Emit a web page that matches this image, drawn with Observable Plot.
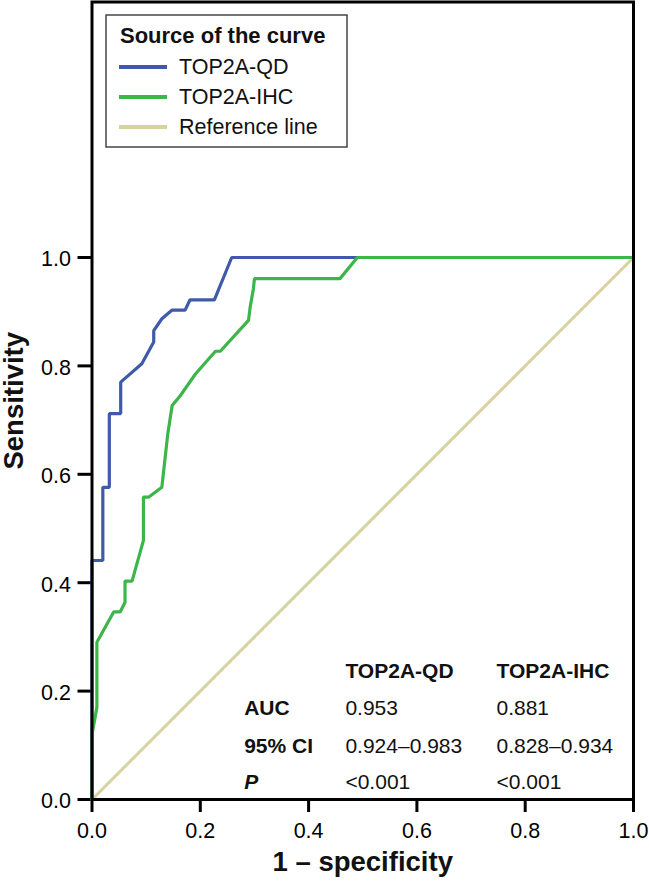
<!DOCTYPE html>
<html><head><meta charset="utf-8">
<script src="https://cdn.jsdelivr.net/npm/d3@7"></script>
<script src="https://cdn.jsdelivr.net/npm/@observablehq/plot@0.6"></script>
<style>
html,body{margin:0;padding:0;background:#fff;}
#chart{position:relative;width:649px;height:885px;}
</style></head><body><div id="chart"></div>
<script>
// ---- data ----
const qdFpr = [0, 0, 0.02, 0.02, 0.032, 0.032, 0.053, 0.053, 0.092, 0.114, 0.114, 0.129, 0.148, 0.172, 0.181, 0.226, 0.258, 1];
const qdTpr = [0, 0.441, 0.441, 0.576, 0.576, 0.712, 0.712, 0.77, 0.804, 0.844, 0.865, 0.887, 0.903, 0.903, 0.922, 0.922, 1.0, 1];
const ihcFpr = [0, 0, 0.009, 0.009, 0.04, 0.052, 0.061, 0.061, 0.074, 0.095, 0.095, 0.105, 0.129, 0.14, 0.148, 0.163, 0.191, 0.228, 0.237, 0.289, 0.292, 0.298, 0.30, 0.458, 0.49, 1];
const ihcTpr = [0, 0.12, 0.17, 0.29, 0.346, 0.346, 0.364, 0.403, 0.403, 0.478, 0.558, 0.558, 0.576, 0.675, 0.727, 0.745, 0.785, 0.827, 0.827, 0.884, 0.908, 0.942, 0.961, 0.961, 1.0, 1];
const refFpr = [0, 1];
const refTpr = [0, 1];
const tickValues = [0, 0.2, 0.4, 0.6, 0.8, 1.0];
const seriesNames = ["TOP2A-QD", "TOP2A-IHC", "Reference line"];
const seriesColors = ["#3f5aa8", "#3cb54a", "#d6d3a1"];
const statColumns = ["TOP2A-QD", "TOP2A-IHC"];
const statRows = ["AUC", "95% CI", "P"];
const qdStats = ["0.953", "0.924–0.983", "<0.001"];
const ihcStats = ["0.881", "0.828–0.934", "<0.001"];
const legendTitle = "Source of the curve";
const xTitle = "1 – specificity";
const yTitle = "Sensitivity";

// ---- layout ----
const W = 649, H = 885;
const mL = 91.5, mR = 16, mT = 1.5, mB = 86;
const yTop = (H - mT - mB) / 542;
const font = "'Liberation Sans', Arial, Helvetica, sans-serif";
const toXY = (xs, ys) => xs.map((x, i) => ({x, y: ys[i]}));
const qdData = toXY(qdFpr, qdTpr);
const ihcData = toXY(ihcFpr, ihcTpr);
const refData = toXY(refFpr, refTpr);

// table positions (data units)
const colX = [0.468, 0.747];
const labelX = 0.281;
const headerY = 0.2375;
const rowY = [0.1692, 0.0991, 0.0327];
const headerCells = statColumns.map((t, i) => ({t, x: colX[i], y: headerY}));
const valueCells = statRows.flatMap((r, j) => [
  {t: qdStats[j], x: colX[0], y: rowY[j]},
  {t: ihcStats[j], x: colX[1], y: rowY[j]}
]);
const labelCells = statRows.map((t, j) => ({t, x: labelX, y: rowY[j]}));

const fmt = d3.format(".1f");
const plot = Plot.plot({
  width: W, height: H,
  marginLeft: mL, marginRight: mR, marginTop: mT, marginBottom: mB,
  style: {fontFamily: font, background: "white", color: "black", overflow: "visible"},
  x: {domain: [0, 1]},
  y: {domain: [0, yTop]},
  marks: [
    Plot.axisX({ticks: tickValues, tickFormat: fmt, tickSize: 13, tickPadding: 10, strokeWidth: 3, fontSize: 21.5, label: null}),
    Plot.axisY({ticks: tickValues, tickFormat: () => "", tickSize: 14, strokeWidth: 3, label: null}),
    Plot.axisY({ticks: tickValues, tickFormat: fmt, tickSize: 0, tickPadding: 21, dy: 2, fontSize: 21.5, label: null}),
    Plot.line(refData, {x: "x", y: "y", stroke: seriesColors[2], strokeWidth: 3}),
    Plot.line(qdData, {x: "x", y: "y", stroke: seriesColors[0], strokeWidth: 3.2, strokeLinejoin: "miter"}),
    Plot.line(ihcData, {x: "x", y: "y", stroke: seriesColors[1], strokeWidth: 3.2, strokeLinejoin: "miter"}),
    Plot.frame({stroke: "black", strokeWidth: 3}),
    Plot.text(headerCells, {x: "x", y: "y", text: "t", textAnchor: "start", fontSize: 21, fontWeight: "bold", fill: "#111"}),
    Plot.text(valueCells, {x: "x", y: "y", text: "t", textAnchor: "start", fontSize: 21, fill: "#111"}),
    Plot.text(labelCells.slice(0, 2), {x: "x", y: "y", text: "t", textAnchor: "start", fontSize: 21, fontWeight: "bold", fill: "#111"}),
    Plot.text(labelCells.slice(2), {x: "x", y: "y", text: "t", textAnchor: "start", fontSize: 21, fontWeight: "bold", fontStyle: "italic", fill: "#111"}),
    Plot.text([yTitle], {text: d => d, frameAnchor: "left", textAnchor: "middle", lineAnchor: "middle", dx: -77.5, rotate: -90, fontSize: 27.5, fontWeight: "bold", fill: "#111"}),
    Plot.text([xTitle], {text: d => d, frameAnchor: "bottom", textAnchor: "middle", lineAnchor: "middle", dy: 63, fontSize: 27.5, fontWeight: "bold", fill: "#111"})
  ]
});
document.getElementById("chart").appendChild(plot);

// ---- legend (inside the plot, top-left) ----
const svg = d3.select(plot);
const g = svg.append("g").attr("font-family", font).attr("text-anchor", "start");
g.append("rect").attr("x", 106).attr("y", 15).attr("width", 241).attr("height", 132)
  .attr("fill", "white").attr("stroke", "#444").attr("stroke-width", 1.5);
g.append("text").attr("x", 120).attr("y", 43).attr("font-size", 22).attr("font-weight", "bold")
  .attr("text-anchor", "start").attr("fill", "#111").text(legendTitle);
seriesNames.forEach((name, i) => {
  g.append("line").attr("x1", 119).attr("x2", 167).attr("y1", 67 + 30 * i).attr("y2", 67 + 30 * i)
    .attr("stroke", seriesColors[i]).attr("stroke-width", 4);
  g.append("text").attr("x", 179).attr("y", 74 + 30 * i).attr("font-size", 21.5)
    .attr("text-anchor", "start").attr("fill", "#111").text(name);
});
</script>
</body></html>
